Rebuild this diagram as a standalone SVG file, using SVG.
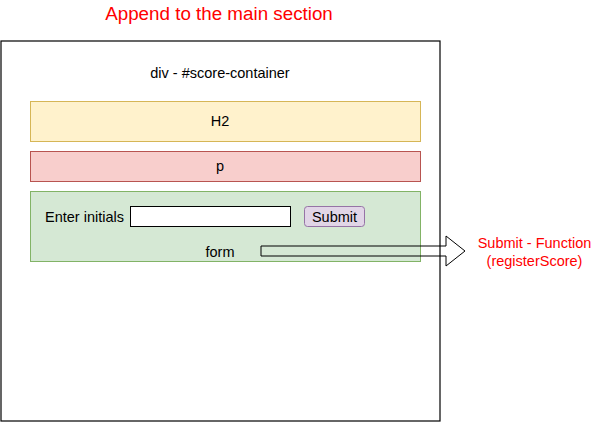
<svg xmlns="http://www.w3.org/2000/svg" width="596" height="422" viewBox="0 0 596 422">
<style>
text{font-family:"Liberation Sans",Arial,Helvetica,sans-serif;font-size:14.5px;fill:#000;text-anchor:middle}
.red{fill:#ff0000}
.box{stroke-width:1}
</style>
<rect width="596" height="422" fill="#fff"/>
<g id="title">
<text class="red" x="219" y="20" style="font-size:18.8px">Append to the main section</text>
</g>
<g id="score-container">
<rect x="1" y="41" width="439" height="380" fill="#fff" stroke="#000" stroke-width="1.2"/>
<text x="220" y="78">div - #score-container</text>
</g>
<g id="h2">
<rect class="box" x="30.5" y="101.5" width="390" height="40" fill="#fff2cc" stroke="#d6b656"/>
<text x="220" y="126">H2</text>
</g>
<g id="p">
<rect class="box" x="30.5" y="151.5" width="390" height="30" fill="#f8cecc" stroke="#b85450"/>
<text x="220" y="171">p</text>
</g>
<g id="form">
<rect class="box" x="30.5" y="191.5" width="390" height="70" fill="#d5e8d4" stroke="#82b366"/>
<text x="220" y="257">form</text>
</g>
<g id="label-initials">
<text x="84.5" y="222">Enter initials</text>
</g>
<g id="input">
<rect x="130.5" y="206.5" width="160" height="20" fill="#fff" stroke="#000"/>
</g>
<g id="submit-button">
<rect x="304.5" y="206.5" width="60" height="20" rx="3" fill="#e1d5e7" stroke="#9673a6"/>
<text x="334.5" y="222">Submit</text>
</g>
<g id="connectors">
<polygon points="261,246 446,246 446,236 465,251 446,266 446,256 261,256" fill="none" stroke="#000" stroke-width="1"/>
</g>
<g id="submit-function">
<text class="red" x="534.5" y="248">Submit - Function</text>
<text class="red" x="534.5" y="266">(registerScore)</text>
</g>
</svg>
